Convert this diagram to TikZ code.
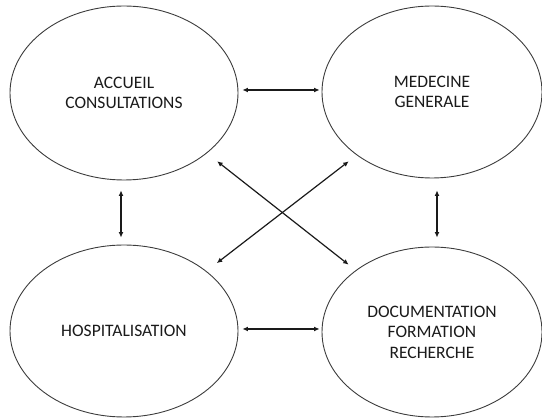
\documentclass[tikz,border=0pt]{standalone}
\usepackage{fontspec}
\setmainfont{Carlito}
\usetikzlibrary{shapes.geometric,arrows.meta}
\definecolor{ink}{HTML}{1A1A1A}
\begin{document}
\begin{tikzpicture}[x=1pt,y=-1pt,
  blob/.style={ellipse,draw=ink!85,line width=0.9pt,inner sep=0pt,align=center,
    font=\fontsize{17.5}{20.5}\selectfont,text=ink},
  link/.style={{Latex[length=5.5pt,width=5pt]}-{Latex[length=5.5pt,width=5pt]},line width=1.2pt,draw=ink}]
\useasboundingbox (0,0) rectangle (542,419);
\node[blob,minimum width=228pt,minimum height=174pt] (A) at (124,93) {ACCUEIL\\CONSULTATIONS};
\node[blob,minimum width=220pt,minimum height=172pt] (B) at (432,92) {MEDECINE\\GENERALE};
\node[blob,minimum width=228pt,minimum height=172pt] (C) at (124,331) {HOSPITALISATION};
\node[blob,minimum width=220pt,minimum height=170pt] (D) at (432,332) {DOCUMENTATION\\FORMATION\\RECHERCHE};
\draw[link,shorten <=4pt,shorten >=2pt] ([yshift=3pt]A.east) -- ([yshift=2pt]B.west);
\draw[link,shorten <=4pt,shorten >=2pt] ([yshift=2pt]C.east) -- ([yshift=3pt]D.west);
\draw[link,shorten <=10pt,shorten >=7pt] ([xshift=-3pt]A.south) -- ([xshift=-3pt]C.north);
\draw[link,shorten <=12pt,shorten >=9pt] ([xshift=5pt]B.south) -- ([xshift=5pt]D.north);
\draw[link,shorten <=13pt,shorten >=9pt] (A.-36) -- (D.141);
\draw[link,shorten <=10pt,shorten >=13pt] (B.220) -- (C.36);
\end{tikzpicture}
\end{document}
